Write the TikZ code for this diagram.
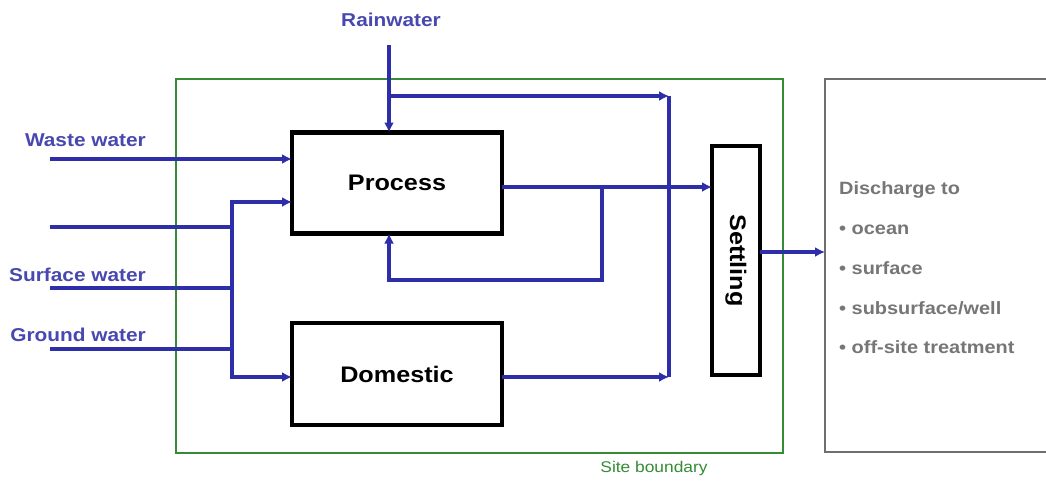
\documentclass[tikz,border=0pt]{standalone}
\usepackage{fontspec}
\usetikzlibrary{arrows.meta}
\newfontfamily\lbl[FakeStretch=1.12]{Liberation Sans}
\definecolor{flowblue}{RGB}{46,46,168}
\definecolor{labelblue}{RGB}{72,72,176}
\definecolor{sitegreen}{RGB}{52,140,52}
\definecolor{outgray}{RGB}{110,110,110}
\definecolor{textgray}{RGB}{118,118,118}
\tikzset{
  unitbox/.style={draw=black, line width=4.8pt, fill=white, inner sep=0pt, outer sep=0pt,
    font=\lbl\bfseries\fontsize{22.5}{27}\selectfont},
  sitebox/.style={draw=sitegreen, line width=2.5pt, inner sep=0pt, outer sep=0pt},
  outbox/.style={draw=outgray, line width=2.5pt, inner sep=0pt, outer sep=0pt},
  inlabel/.style={text=labelblue, inner sep=0pt, font=\lbl\bfseries\fontsize{18.6}{22}\selectfont},
  flow/.style={draw=flowblue, line width=3.2pt, line join=miter},
  tip/.style={-{Latex[length=10pt,width=10pt]}},
  tips/.style={{Latex[length=10pt,width=10pt]}-{Latex[length=10pt,width=10pt]}},
}
\begin{document}
\begin{tikzpicture}[x=1pt,y=-1pt]
\useasboundingbox[fill=white] (0,0) rectangle (1046,482);

% site boundary and discharge area
\node[sitebox, minimum width=607pt, minimum height=374pt] (site) at (479.5,266) {};
\node[text=sitegreen, inner sep=0pt, font=\lbl\fontsize{15.5}{18}\selectfont] (sitelbl) at (654,468) {Site boundary};
\node[outbox, minimum width=232pt, minimum height=373pt] (discharge) at (941,265.5) {};
\node[text=textgray, anchor=west, align=left, inner sep=0pt,
      font=\lbl\bfseries\fontsize{17.8}{39.7}\selectfont] (distext) at (839,268)
  {Discharge to\\\textbullet\ ocean\\\textbullet\ surface\\\textbullet\ subsurface/well\\\textbullet\ off-site treatment};

% treatment units
\node[unitbox, minimum width=210pt, minimum height=101pt] (process) at (397,183) {Process};
\node[unitbox, minimum width=210pt, minimum height=102pt] (domestic) at (397,374) {Domestic};
\node[unitbox, minimum width=48pt, minimum height=229pt] (settling) at (736,260.5) {\rotatebox{-90}{Settling}};

% source labels
\node[inlabel] (rainlbl) at (391,20) {Rainwater};
\node[inlabel, anchor=east] (wastelbl) at (146,140) {Waste water};
\node[inlabel, anchor=east] (surflbl) at (146,275) {Surface water};
\node[inlabel, anchor=east] (groundlbl) at (146,335) {Ground water};

% connector end points
\coordinate (ww) at (50,159);
\coordinate (in2) at (50,227);
\coordinate (sw) at (50,288);
\coordinate (gw) at (50,349);
\coordinate (bt) at (232,202);
\coordinate (bb) at (232,377);
\coordinate (rain) at (389,45);
\coordinate (rb) at (389,96);
\coordinate (col) at (669,96);
\coordinate (colb) at (669,377);
\coordinate (po) at (502,187);
\coordinate (rc) at (602,187);
\coordinate (rc2) at (389,280);
\coordinate (so) at (760,252);

% inflows
\draw[flow, tip] (ww) -- (ww -| process.west);
\draw[flow] (in2) -- (in2 -| bt);
\draw[flow] (sw) -- (sw -| bt);
\draw[flow] (gw) -- (gw -| bt);
\draw[flow, tips] (bt -| process.west) -- (bt) -- (bb) -- (bb -| domestic.west);

% rainwater
\draw[flow, tip] (rain) -- (rain |- process.north);
\draw[flow, tip] (rb) -- (col);
\draw[flow] (col) -- (colb);
\draw[flow, tip] (domestic.east |- colb) -- (colb);

% process outflow and recycle
\draw[flow, tip] (po) -- (po -| settling.west);
\draw[flow, tip] (rc) |- (rc2) -- (rc2 |- process.south);

% discharge
\draw[flow, tip] (settling.east |- so) -- (so -| discharge.west);
\end{tikzpicture}
\end{document}
